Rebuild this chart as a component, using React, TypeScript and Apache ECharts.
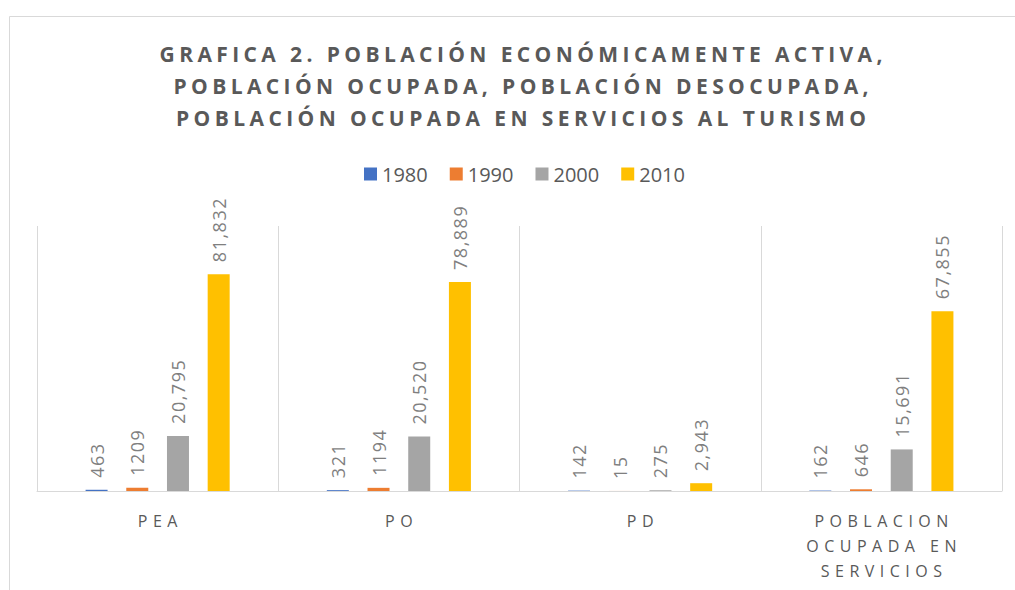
import React, { useEffect, useRef } from "react";
import * as echarts from "echarts";

const titleLines = [
  "GRAFICA 2. POBLACIÓN ECONÓMICAMENTE ACTIVA,",
  "POBLACIÓN OCUPADA, POBLACIÓN DESOCUPADA,",
  "POBLACIÓN OCUPADA EN SERVICIOS AL TURISMO",
];
const categories = ["PEA", "PO", "PD", "POBLACION OCUPADA EN SERVICIOS"];
const seriesNames = ["1980", "1990", "2000", "2010"];
const values1980 = [463, 321, 142, 162];
const values1990 = [1209, 1194, 15, 646];
const values2000 = [20795, 20520, 275, 15691];
const values2010 = [81832, 78889, 2943, 67855];
const seriesValues = [values1980, values1990, values2000, values2010];
const useThousands = [true, false, true, true];
const colors = ["#4472C4", "#ED7D31", "#A5A5A5", "#FFC000"];
const yMax = 100000;

function wrap(s: string, max: number): string {
  const words = s.split(" ");
  const lines: string[] = [];
  let cur = "";
  for (const w of words) {
    if (!cur) cur = w;
    else if ((cur + " " + w).length <= max) cur += " " + w;
    else {
      lines.push(cur);
      cur = w;
    }
  }
  if (cur) lines.push(cur);
  return lines.join("\n");
}

export default function App() {
  const ref = useRef<HTMLDivElement>(null);
  useEffect(() => {
    if (!ref.current) return;
    const chart = echarts.init(ref.current, undefined, { renderer: "svg" });
    const axisLineSet = new Set<string>();
    categories.forEach((c) => wrap(c, 10).split("\n").forEach((l) => axisLineSet.add(l)));
    const font = "Open Sans";
    chart.setOption({
      animation: false,
      backgroundColor: "#ffffff",
      title: {
        text: titleLines.join("\n"),
        left: 521,
        top: 38,
        padding: 0,
        textAlign: "center",
        textStyle: {
          fontFamily: font,
          fontSize: 21,
          fontWeight: "bold",
          color: "#595959",
          lineHeight: 32,
        },
      },
      legend: {
        data: seriesNames,
        left: 359,
        top: 159,
        itemWidth: 13,
        itemHeight: 13,
        itemGap: 22,
        icon: "rect",
        textStyle: { fontFamily: font, fontSize: 20, color: "#595959" },
      },
      graphic: [
        {
          type: "rect",
          shape: { x: 9.5, y: 16.5, width: 1100, height: 700 },
          style: { fill: "none", stroke: "#d9d9d9", lineWidth: 1 },
          silent: true,
          z: -10,
        },
      ],
      grid: { left: 37, right: 13, top: 226, bottom: 99, containLabel: false },
      xAxis: {
        type: "category",
        data: categories,
        axisLine: { show: true, lineStyle: { color: "#d9d9d9", width: 1 } },
        axisTick: { show: false },
        splitLine: { show: true, lineStyle: { color: "#d9d9d9", width: 1 } },
        axisLabel: {
          interval: 0,
          margin: 17,
          fontFamily: font,
          fontSize: 16,
          lineHeight: 25,
          color: "#595959",
          formatter: (v: string) => wrap(v, 10),
        },
      },
      yAxis: {
        type: "value",
        min: 0,
        max: yMax,
        show: false,
        splitLine: { show: false },
      },
      series: seriesNames.map((name, i) => ({
        name,
        type: "bar",
        data: seriesValues[i],
        barWidth: 22,
        barGap: "85%",
        itemStyle: { color: colors[i] },
        label: {
          show: true,
          position: "top",
          rotate: 90,
          align: "left",
          verticalAlign: "middle",
          distance: 12,
          fontFamily: font,
          fontSize: 18,
          color: "#7f7f7f",
          formatter: (p: any) =>
            useThousands[i] ? Number(p.value).toLocaleString("en-US") : String(p.value),
        },
      })),
    });
    const applySpacing = () => {
      const svg = ref.current?.querySelector("svg");
      if (!svg) return;
      svg.querySelectorAll("text").forEach((t) => {
        const s = t.textContent || "";
        let ls = 0;
        let centered = false;
        if (titleLines.includes(s)) {
          ls = 4.4;
          centered = true;
        } else if (axisLineSet.has(s)) {
          ls = 5.5;
          centered = true;
        } else if (/^[\d,]+$/.test(s) && !seriesNames.includes(s)) ls = 1.5;
        if (ls) {
          t.setAttribute("letter-spacing", String(ls));
          if (centered) t.setAttribute("dx", String(ls / 2));
        }
      });
    };
    applySpacing();
    chart.on("finished", applySpacing);
    const t1 = setTimeout(applySpacing, 0);
    const t2 = setTimeout(applySpacing, 100);
    return () => {
      clearTimeout(t1);
      clearTimeout(t2);
      chart.dispose();
    };
  }, []);
  return (
    <div
      ref={ref}
      style={{ position: "absolute", left: 0, top: 0, width: 1015, height: 590 }}
    />
  );
}
